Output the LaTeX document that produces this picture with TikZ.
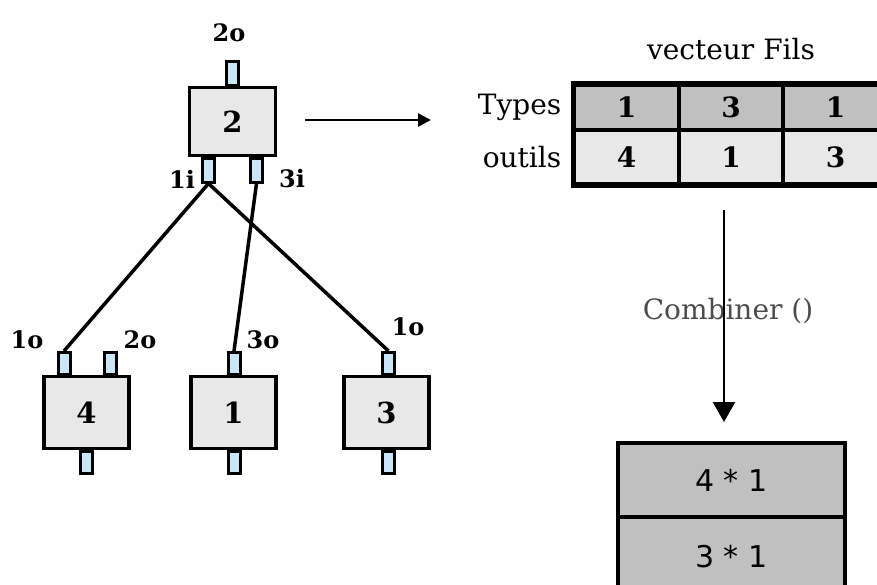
\documentclass[tikz,border=0pt]{standalone}
\usepackage{fontspec}
\setmainfont{DejaVu Serif}
\setsansfont{DejaVu Sans}
\usetikzlibrary{positioning,arrows.meta}
\definecolor{gris}{HTML}{E8E8E8}
\definecolor{grisfonce}{HTML}{C0C0C0}
\definecolor{bleu}{HTML}{C8E6F5}
\tikzset{
  outil/.style={draw, line width=3.5pt, fill=gris, minimum width=85pt, inner sep=0pt,
    font=\fontsize{29}{29}\selectfont\bfseries},
  broche/.style={draw, line width=3pt, fill=bleu, minimum width=12pt, inner sep=0pt},
  etiq/.style={inner sep=0pt, font=\fontsize{24}{24}\selectfont\bfseries},
  cellule/.style={draw, line width=3.5pt, minimum width=104pt, inner sep=0pt,
    font=\fontsize{28}{28}\selectfont\bfseries},
  ligne/.style={draw, line width=3.5pt, minimum width=227pt, inner sep=0pt, fill=grisfonce,
    font=\sffamily\fontsize{30}{30}\selectfont},
  fil/.style={line width=3.5pt},
  fleche/.style={line width=2.5pt, -{Triangle[length=13pt,width=13pt]}},
}
\begin{document}
\begin{tikzpicture}[x=1pt,y=-1pt]
\useasboundingbox (0,0) rectangle (877,584);
\clip (0,0) rectangle (877,584);

% outil 2 et ses broches
\node[broche, minimum height=24pt] (b2h) at (232.5,73) {};
\node[broche, minimum height=24pt] (b2g) at (208.5,170) {};
\node[broche, minimum height=24pt] (b2d) at (256.5,170) {};
\node[outil, minimum width=86pt, minimum height=68pt] (b2) at (232.5,121.5) {2};

% outils fils
\node[broche, minimum height=22pt] (b4g) at (64,363.5) {};
\node[broche, minimum height=22pt] (b4d) at (110.5,363.5) {};
\node[broche, minimum height=22pt] (b4b) at (86.5,462.5) {};
\node[outil, minimum height=72pt] (b4) at (86.5,412.5) {4};

\node[broche, minimum height=22pt] (b1h) at (234,363.5) {};
\node[broche, minimum height=22pt] (b1b) at (234,462.5) {};
\node[outil, minimum height=72pt] (b1) at (233.5,412.5) {1};

\node[broche, minimum height=22pt] (b3h) at (388.5,363.5) {};
\node[broche, minimum height=22pt] (b3b) at (388.5,462.5) {};
\node[outil, minimum height=72pt] (b3) at (386.5,412.5) {3};

% noms des broches
\node[etiq] (e2o) at (229,33) {2o};
\node[etiq] (e1i) at (182,179) {1i};
\node[etiq] (e3i) at (292,179) {3i};
\node[etiq] (e4a) at (27,340) {1o};
\node[etiq] (e4b) at (140,340) {2o};
\node[etiq] (e1o) at (263,340) {3o};
\node[etiq] (e3o) at (408,327) {1o};

% liaisons
\draw[fil] (b2g.south) -- (b4g.north);
\draw[fil] (b2g.south) -- (b3h.north);
\draw[fil] (b2d.south) -- (b1h.north);

\coordinate (d1) at (305,120);
\coordinate (d2) at (431,120);
\draw[fleche] (d1) -- (d2);

% vecteur Fils
\foreach \t/\o [count=\i] in {1/4,3/1,1/3} {
  \node[cellule, fill=grisfonce, minimum height=45pt] (ty\i) at (522+104.5*\i,107.5) {\t};
  \node[cellule, fill=gris, minimum height=54pt] (ou\i) at (522+104.5*\i,157) {\o};
}
\draw[line width=4.5pt] (ty1.north west) rectangle (ou3.south east);
\node[font=\fontsize{28}{28}\selectfont, above=20pt of ty2] (titre) {vecteur Fils};
\node[font=\fontsize{28}{28}\selectfont, left=8pt of ty1] (types) {Types};
\node[font=\fontsize{28}{28}\selectfont, left=8pt of ou1] (outils) {outils};

% combinaison
\node[font=\fontsize{28}{28}\selectfont, text=black!70] (comb) at (728,311) {Combiner ()};
\coordinate (c1) at (724,210);
\coordinate (c2) at (724,422);
\draw[fleche, -{Triangle[length=20pt,width=22pt]}] (c1) -- (c2);

\node[ligne, minimum height=74pt] (r1) at (731.5,480) {4 * 1};
\node[ligne, minimum height=80pt] (r2) at (731.5,557) {3 * 1};
\end{tikzpicture}
\end{document}
